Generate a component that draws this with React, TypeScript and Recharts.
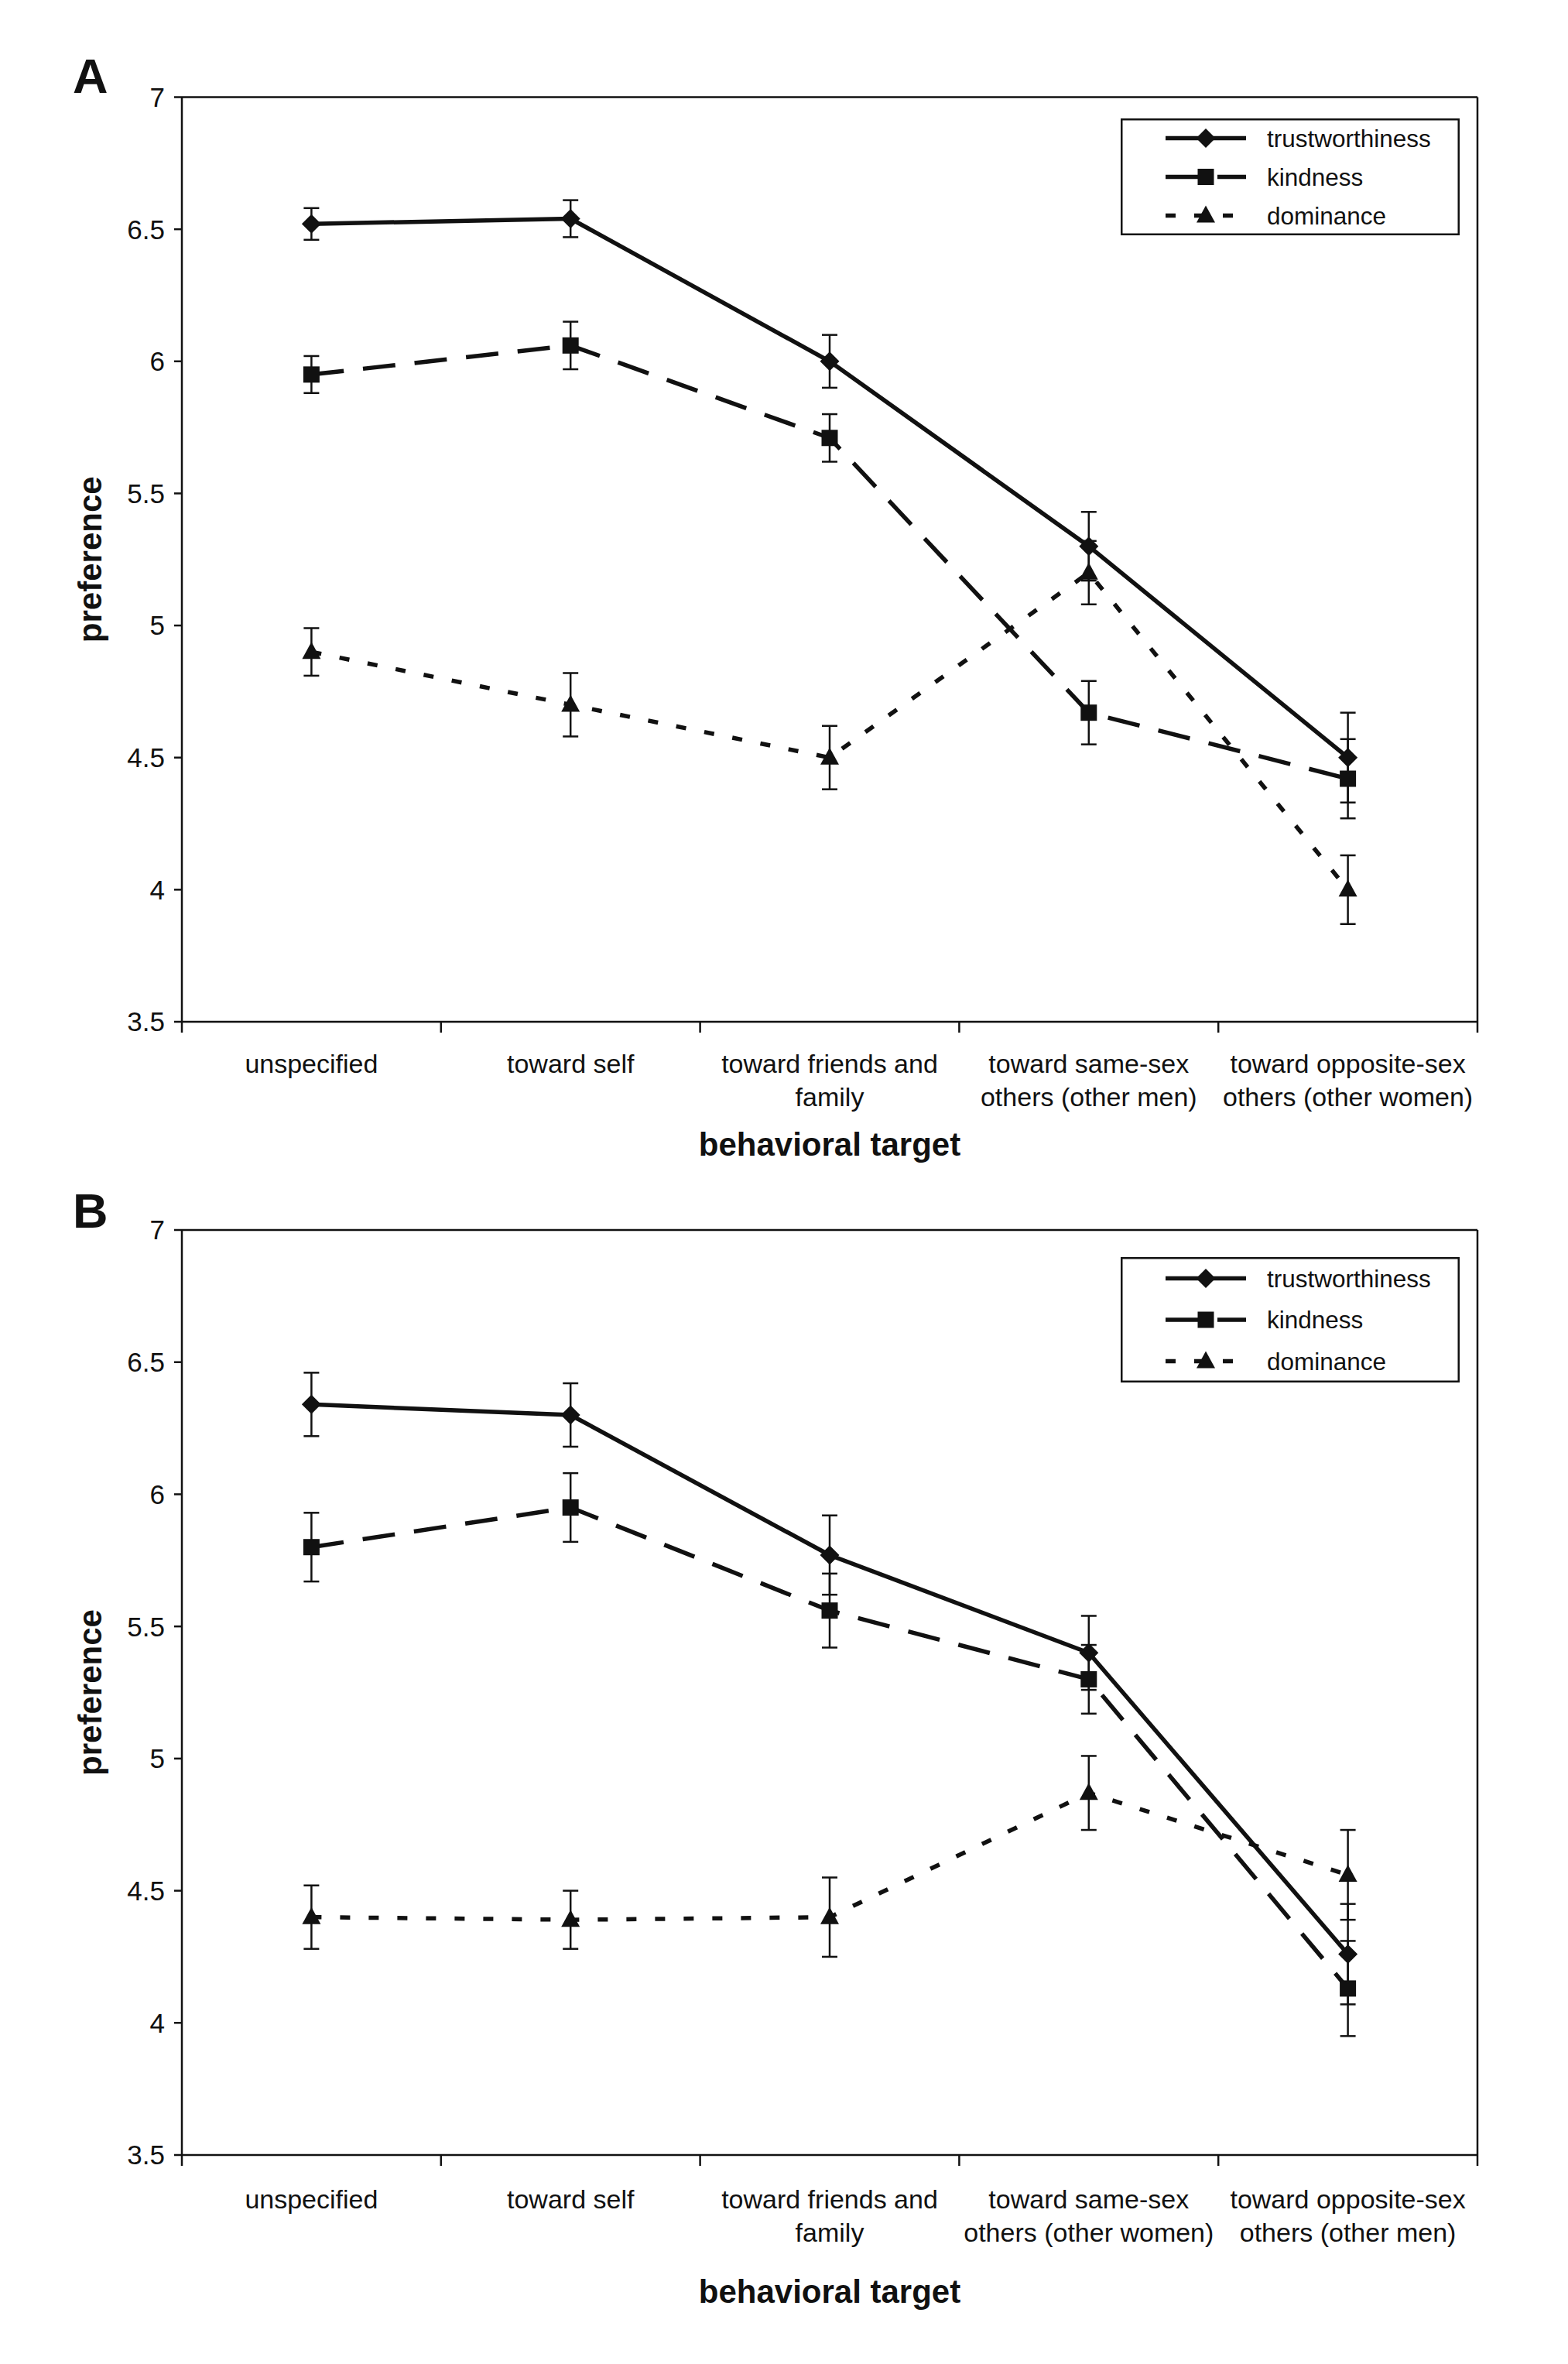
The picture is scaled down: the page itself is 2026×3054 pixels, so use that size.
import React from "react";
import { LineChart, Line, XAxis, YAxis, ErrorBar, Legend, CartesianGrid } from "recharts";

const INK = "#111";
const FONT = "'Liberation Sans', Arial, Helvetica, sans-serif";
const W = 2026;
const PLOT_LEFT = 235;
const PLOT_RIGHT_MARGIN = 117;
const N_CATS = 5;
const HALF_BAND = (W - PLOT_LEFT - PLOT_RIGHT_MARGIN) / N_CATS / 2;

// categories (line breaks as in the printed figure)
const targetsA = [
  "unspecified",
  "toward self",
  "toward friends and\nfamily",
  "toward same-sex\nothers (other men)",
  "toward opposite-sex\nothers (other women)",
];
const targetsB = [
  "unspecified",
  "toward self",
  "toward friends and\nfamily",
  "toward same-sex\nothers (other women)",
  "toward opposite-sex\nothers (other men)",
];

// panel A
const trustA = [6.52, 6.54, 6.0, 5.3, 4.5];
const trustErrA = [0.06, 0.07, 0.1, 0.13, 0.17];
const kindA = [5.95, 6.06, 5.71, 4.67, 4.42];
const kindErrA = [0.07, 0.09, 0.09, 0.12, 0.15];
const domA = [4.9, 4.7, 4.5, 5.2, 4.0];
const domErrA = [0.09, 0.12, 0.12, 0.12, 0.13];

// panel B
const trustB = [6.34, 6.3, 5.77, 5.4, 4.26];
const trustErrB = [0.12, 0.12, 0.15, 0.14, 0.19];
const kindB = [5.8, 5.95, 5.56, 5.3, 4.13];
const kindErrB = [0.13, 0.13, 0.14, 0.13, 0.18];
const domB = [4.4, 4.39, 4.4, 4.87, 4.56];
const domErrB = [0.12, 0.11, 0.15, 0.14, 0.17];

const yTicks = [3.5, 4, 4.5, 5, 5.5, 6, 6.5, 7];
const seriesNames = ["trustworthiness", "kindness", "dominance"];

const SERIES = [
  { key: "trust", name: seriesNames[0], dash: undefined, shape: "diamond" },
  { key: "kind", name: seriesNames[1], dash: "42 25", shape: "square" },
  { key: "dom", name: seriesNames[2], dash: "13 24", shape: "triangle" },
];

function buildRows(targets, t, te, k, ke, d, de) {
  return targets.map((target, i) => ({
    target,
    trust: t[i],
    trustErr: te[i],
    kind: k[i],
    kindErr: ke[i],
    dom: d[i],
    domErr: de[i],
  }));
}

const dataA = buildRows(targetsA, trustA, trustErrA, kindA, kindErrA, domA, domErrA);
const dataB = buildRows(targetsB, trustB, trustErrB, kindB, kindErrB, domB, domErrB);

function Marker({ shape, cx, cy }) {
  if (cx == null || cy == null) return null;
  if (shape === "diamond") {
    const r = 12.5;
    return (
      <polygon
        points={`${cx},${cy - r} ${cx + r},${cy} ${cx},${cy + r} ${cx - r},${cy}`}
        fill={INK}
      />
    );
  }
  if (shape === "square") {
    return <rect x={cx - 10.5} y={cy - 10.5} width={21} height={21} fill={INK} />;
  }
  return (
    <polygon
      points={`${cx},${cy - 13} ${cx + 12},${cy + 9} ${cx - 12},${cy + 9}`}
      fill={INK}
    />
  );
}

// category label plus the tick marks on the category boundaries
function CatTick(props: any) {
  const { x, y, payload, base } = props;
  const half = HALF_BAND;
  const lines = String(payload.value).split("\n");
  return (
    <g>
      <line x1={x + half} x2={x + half} y1={y} y2={y + 14} stroke={INK} strokeWidth={2.5} />
      {payload.index === 0 && (
        <line x1={x - half} x2={x - half} y1={y} y2={y + 14} stroke={INK} strokeWidth={2.5} />
      )}
      <text x={x} y={y + base} textAnchor="middle" fontSize={34} fontFamily={FONT} fill={INK}>
        {lines.map((l, i) => (
          <tspan key={i} x={x} dy={i === 0 ? 0 : 43}>
            {l}
          </tspan>
        ))}
      </text>
    </g>
  );
}

function LegendBox({ w, h, gap }) {
  return (
    <svg width={w} height={h} style={{ display: "block" }}>
      <rect x={1.25} y={1.25} width={w - 2.5} height={h - 2.5} fill="#fff" stroke={INK} strokeWidth={2.5} />
      {SERIES.map((s, i) => {
        const cy = h / 2 + (i - 1) * gap;
        return (
          <g key={s.key}>
            <line
              x1={58}
              x2={162}
              y1={cy}
              y2={cy}
              stroke={INK}
              strokeWidth={5.5}
              strokeDasharray={s.dash}
            />
            <Marker shape={s.shape} cx={110} cy={cy} />
            <text x={189} y={cy + 11} fontSize={31.5} fontFamily={FONT} fill={INK}>
              {s.name}
            </text>
          </g>
        );
      })}
    </svg>
  );
}

function Panel({ data, top, height, marginTop, plotH, xAxisHeight, titleOffset, tickBase, legend, letter, letterY }) {
  const marginBottom = height - marginTop - plotH - xAxisHeight;
  return (
    <div style={{ position: "absolute", left: 0, top, width: W, height }}>
      <svg width={200} height={200} style={{ position: "absolute", left: 0, top: 0 }}>
        <text x={94} y={letterY} fontSize={63} fontWeight="bold" fontFamily={FONT} fill={INK}>
          {letter}
        </text>
      </svg>
      <LineChart
        width={W}
        height={height}
        data={data}
        margin={{ top: marginTop, right: PLOT_RIGHT_MARGIN, left: 0, bottom: marginBottom }}
      >
        {/* top and right frame of the plot area */}
        <CartesianGrid
          stroke={INK}
          strokeWidth={2.5}
          horizontalCoordinatesGenerator={({ offset }: any) => [offset.top]}
          verticalCoordinatesGenerator={({ offset }: any) => [offset.left + offset.width]}
        />
        <XAxis
          dataKey="target"
          type="category"
          interval={0}
          padding={{ left: HALF_BAND, right: HALF_BAND }}
          height={xAxisHeight}
          tickLine={false}
          tickSize={0}
          tickMargin={0}
          axisLine={{ stroke: INK, strokeWidth: 2.5 }}
          tick={<CatTick base={tickBase} />}
          label={{
            value: "behavioral target",
            position: "insideBottom",
            offset: titleOffset,
            fill: INK,
            style: { fontSize: 42, fontWeight: "bold", fontFamily: FONT, fill: INK },
          }}
        />
        <YAxis
          type="number"
          domain={[3.5, 7]}
          ticks={yTicks}
          interval={0}
          width={PLOT_LEFT}
          tickSize={10}
          tickMargin={12}
          axisLine={{ stroke: INK, strokeWidth: 2.5 }}
          tickLine={{ stroke: INK, strokeWidth: 2.5 }}
          tick={{ fontSize: 35, fill: INK, fontFamily: FONT }}
          label={{
            value: "preference",
            angle: -90,
            position: "insideLeft",
            offset: 116,
            fill: INK,
            style: { textAnchor: "middle", fontSize: 42, fontWeight: "bold", fontFamily: FONT, fill: INK },
          }}
        />
        <Legend
          layout="vertical"
          align="center"
          verticalAlign="middle"
          wrapperStyle={{
            position: "absolute",
            left: 1448,
            top: legend.top,
            width: legend.w,
            height: legend.h,
            margin: 0,
            padding: 0,
          }}
          content={() => <LegendBox w={legend.w} h={legend.h} gap={legend.gap} />}
        />
        {SERIES.map((s) => (
          <Line
            key={s.key}
            type="linear"
            dataKey={s.key}
            name={s.name}
            stroke={INK}
            strokeWidth={5.5}
            strokeDasharray={s.dash}
            isAnimationActive={false}
            activeDot={false}
            dot={(p: any) => <Marker key={`${s.key}-${p.index}`} shape={s.shape} cx={p.cx} cy={p.cy} />}
          >
            <ErrorBar
              dataKey={`${s.key}Err`}
              direction="y"
              width={10}
              stroke={INK}
              strokeWidth={2.5}
              isAnimationActive={false}
            />
          </Line>
        ))}
      </LineChart>
    </div>
  );
}

export default function App() {
  return (
    <div
      style={{
        position: "absolute",
        left: 0,
        top: 0,
        width: W,
        height: 3054,
        background: "#fff",
        fontFamily: FONT,
      }}
    >
      <Panel
        data={dataA}
        top={0}
        height={1520}
        marginTop={125.5}
        plotH={1194.5}
        xAxisHeight={200}
        titleOffset={27}
        tickBase={66}
        legend={{ top: 153, w: 438, h: 151, gap: 50 }}
        letter="A"
        letterY={120}
      />
      <Panel
        data={dataB}
        top={1500}
        height={1554}
        marginTop={89}
        plotH={1195}
        xAxisHeight={220}
        titleOffset={29}
        tickBase={69}
        legend={{ top: 124, w: 438, h: 162, gap: 53.5 }}
        letter="B"
        letterY={86}
      />
    </div>
  );
}
